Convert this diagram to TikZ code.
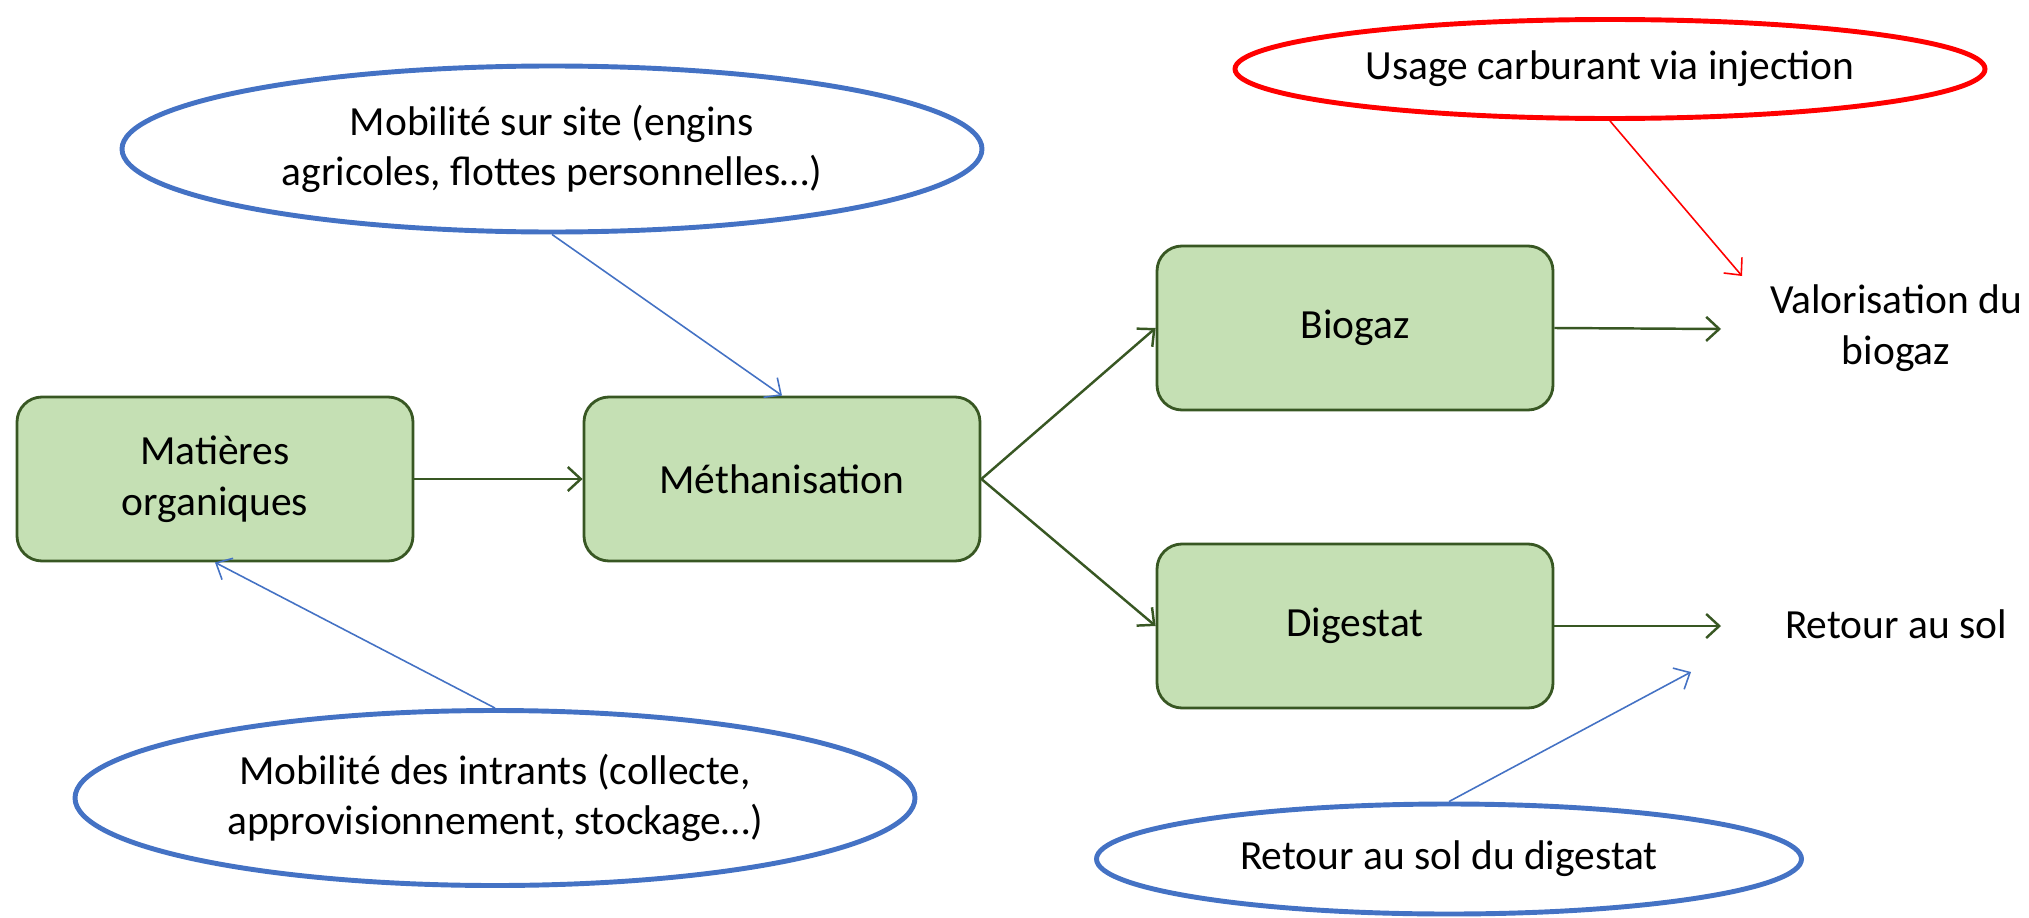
\documentclass[tikz,border=0pt]{standalone}
\usepackage{fontspec}
\setmainfont{Carlito}
\usetikzlibrary{shapes}
\usetikzlibrary{positioning}
\usetikzlibrary{arrows.meta}
\definecolor{boxfill}{HTML}{C5E0B4}
\definecolor{boxline}{HTML}{385723}
\definecolor{ellblue}{HTML}{4472C4}
\tikzset{
    mybox/.style = {rectangle, rounded corners=0.25cm, draw=boxline, line width=0.8pt, fill=boxfill, minimum width=3.96cm, minimum height=1.64cm, align=center, font=\fontsize{11.8}{14.4}\selectfont, text=black},
    myellb/.style = {ellipse, draw=ellblue, line width=1.4pt, inner sep=0pt, align=center, font=\fontsize{11.8}{14.4}\selectfont, text=black},
    myellr/.style = {ellipse, draw=red, line width=1.4pt, inner sep=0pt, align=center, font=\fontsize{11.8}{14.4}\selectfont, text=black},
    mytext/.style = {align=center, font=\fontsize{11.8}{14.4}\selectfont, text=black},
    edgeg/.style = {-{Straight Barb[length=1.3mm,width=2.4mm]}, line width=0.7pt, boxline},
    edgeb/.style = {-{Straight Barb[length=1.3mm,width=2.4mm]}, line width=0.45pt, ellblue},
    edger/.style = {-{Straight Barb[length=1.3mm,width=2.4mm]}, line width=0.45pt, red}
}
\begin{document}
\begin{tikzpicture}
\useasboundingbox (0,0) rectangle (20.29,9.17);

\node[mybox] at ( 2.15, 4.38) (mat) {Matières\\organiques};
\node[mybox] at ( 7.82, 4.38) (meth) {Méthanisation};
\node[mybox] at (13.55, 5.89) (bio) {Biogaz};
\node[mybox] at (13.55, 2.91) (dig) {Digestat};
\node[mytext] at (18.96, 5.89) (valo) {Valorisation du\\biogaz};
\node[mytext] at (18.96, 2.93) (sol) {Retour au sol};

\node[myellb, minimum width=8.60cm, minimum height=1.66cm] at ( 5.52, 7.68) (site) {Mobilité sur site (engins\\agricoles, flottes personnelles…)};
\node[myellr, minimum width=7.50cm, minimum height=0.99cm] at (16.10, 8.48) (carb) {Usage carburant via injection};
\node[myellb, minimum width=8.40cm, minimum height=1.75cm] at ( 4.95, 1.19) (intr) {Mobilité des intrants (collecte,\\approvisionnement, stockage…)};
\node[myellb, minimum width=7.05cm, minimum height=1.10cm] at (14.49, 0.58) (dsol) {Retour au sol du digestat};

\coordinate (bioend) at (17.21, 5.88);
\coordinate (digend) at (17.21, 2.91);
\coordinate (carbend) at (17.42, 6.41);
\coordinate (dsolend) at (16.91, 2.45);

\draw[edgeg] (mat) -- (meth);
\draw[edgeg] (meth.east) -- (bio.west);
\draw[edgeg] (meth.east) -- (dig.west);
\draw[edgeg] (bio.east) -- (bioend);
\draw[edgeg] (dig.east) -- (digend);
\draw[edgeb] (site.south) -- (meth.north);
\draw[edgeb] (intr.north) -- (mat.south);
\draw[edger] (carb.south) -- (carbend);
\draw[edgeb] (dsol.north) -- (dsolend);

\end{tikzpicture}
\end{document}
